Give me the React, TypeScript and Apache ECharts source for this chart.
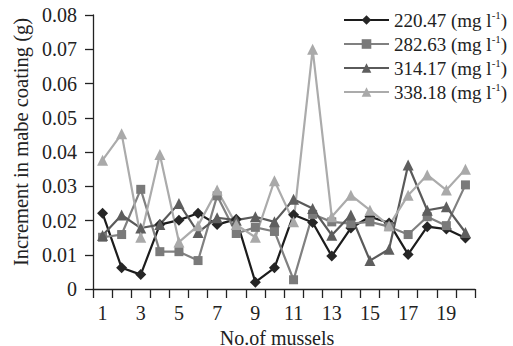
import React, { useEffect, useRef } from "react";
import * as echarts from "echarts";

const categories = ["1","2","3","4","5","6","7","8","9","10","11","12","13","14","15","16","17","18","19","20"];
const seriesNames = ["220.47", "282.63", "314.17", "338.18"];
const s220 = [0.0221,0.0062,0.0042,0.0188,0.0201,0.0221,0.0188,0.0204,0.0020,0.0062,0.0217,0.0194,0.0096,0.0178,0.0211,0.0193,0.0101,0.0182,0.0175,0.0149];
const s282 = [0.0151,0.0159,0.0291,0.0109,0.0109,0.0083,0.0272,0.0162,0.0180,0.0168,0.0027,0.0218,0.0196,0.0191,0.0196,0.0182,0.0159,0.0211,0.0185,0.0304];
const s314 = [0.0156,0.0216,0.0178,0.0188,0.0250,0.0165,0.0208,0.0201,0.0211,0.0196,0.0262,0.0235,0.0157,0.0216,0.0083,0.0116,0.0362,0.0230,0.0240,0.0165];
const s338 = [0.0376,0.0453,0.0151,0.0393,0.0137,0.0185,0.0289,0.0188,0.0151,0.0316,0.0196,0.0700,0.0211,0.0274,0.0230,0.0185,0.0274,0.0333,0.0289,0.0350];

const FONT = "Liberation Serif";

export default function App() {
  const ref = useRef<HTMLDivElement>(null);
  useEffect(() => {
    document.body.style.margin = "0";
    const chart = echarts.init(ref.current!, null, { renderer: "svg" });
    const mk = (name: string, data: number[], color: string, markerColor: string, symbol: string, size: number) => ({
      name,
      type: "line",
      data,
      symbol,
      symbolSize: size,
      lineStyle: { color, width: 2.2 },
      itemStyle: { color: markerColor },
    });
    chart.setOption({
      animation: false,
      backgroundColor: "#fff",
      textStyle: { fontFamily: FONT },
      grid: { left: 93, right: 38, top: 15, bottom: 57, outerBoundsMode: "none", containLabel: false },
      legend: {
        orient: "vertical",
        left: 343,
        top: 9,
        padding: 0,
        itemWidth: 45,
        itemHeight: 12,
        itemGap: 2,
        data: seriesNames,
        formatter: (n: string) => `${n} (mg l{sup|-1})`,
        textStyle: {
          fontFamily: FONT,
          fontSize: 19,
          color: "#222",
          lineHeight: 22,
          rich: { sup: { fontFamily: FONT, fontSize: 11, verticalAlign: "top", color: "#222", lineHeight: 22 } },
        },
      },
      xAxis: {
        type: "category",
        data: categories,
        boundaryGap: true,
        name: "No.of mussels",
        nameLocation: "middle",
        nameGap: 29,
        nameTextStyle: { fontFamily: FONT, fontSize: 20, lineHeight: 20, color: "#222", padding: [0, 14, 0, 0] },
        axisLine: { lineStyle: { color: "#222", width: 1.3 } },
        axisTick: { show: true, interval: 0, length: 9, lineStyle: { color: "#222", width: 1.3 } },
        axisLabel: { interval: 1, margin: 14, fontFamily: FONT, fontSize: 20, color: "#222" },
        splitLine: { show: false },
      },
      yAxis: {
        type: "value",
        min: 0,
        max: 0.08,
        interval: 0.01,
        name: "Increment in mabe coating (g)",
        nameLocation: "middle",
        nameGap: 57,
        nameTextStyle: { fontFamily: FONT, fontSize: 20.5, color: "#222", padding: [0, 0, 0, 20] },
        axisLine: { show: true, lineStyle: { color: "#222", width: 1.3 } },
        axisTick: { show: true, length: 8, lineStyle: { color: "#222", width: 1.3 } },
        axisLabel: {
          margin: 16,
          fontFamily: FONT,
          fontSize: 20,
          color: "#222",
          formatter: (v: number) => (v === 0 ? "0" : v.toFixed(2)),
        },
        splitLine: { show: false },
      },
      series: [
        mk(seriesNames[0], s220, "#1c1c1c", "#262626", "diamond", 11),
        mk(seriesNames[1], s282, "#808080", "#7a7a7a", "rect", 9),
        mk(seriesNames[2], s314, "#5a5a5a", "#5e5e5e", "triangle", 11),
        mk(seriesNames[3], s338, "#ababab", "#a9a9a9", "triangle", 11),
      ],
    });
    return () => chart.dispose();
  }, []);
  return <div ref={ref} style={{ width: 513, height: 346 }} />;
}
